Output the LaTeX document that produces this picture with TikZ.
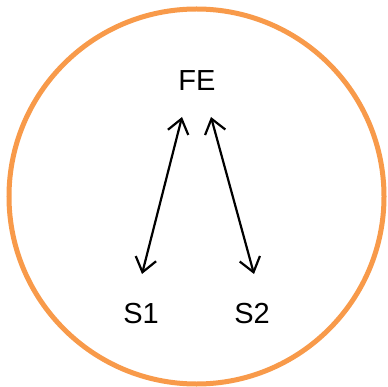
\documentclass[tikz,border=0pt]{standalone}
\usepackage{fontspec}
\setmainfont{Liberation Sans}
\usetikzlibrary{arrows.meta}
\definecolor{ring}{RGB}{248,154,74}
\tikzset{
  lbl/.style={font=\fontsize{29}{31}\selectfont, inner sep=0pt, text=black},
  link/.style={line width=2.2pt, {Straight Barb[length=14pt,width=21pt,line width=2.2pt]}-{Straight Barb[length=14pt,width=21pt,line width=2.2pt]}}
}
\begin{document}
\begin{tikzpicture}[x=1pt,y=-1pt]
\useasboundingbox (0,0) rectangle (387,387);
\clip (0,0) rectangle (387,387);
\fill[white] (0,0) rectangle (387,387);
\draw[ring, line width=5pt] (196.5,196.5) circle (187.5);
\node[lbl] (fe) at (197,81) {FE};
\node[lbl] (s1) at (141,314) {S1};
\node[lbl] (s2) at (252,314) {S2};
\coordinate (a1) at (182,117);
\coordinate (b1) at (142,274);
\coordinate (a2) at (211,117);
\coordinate (b2) at (254,274);
\draw[link] (a1) -- (b1);
\draw[link] (a2) -- (b2);
\end{tikzpicture}
\end{document}
